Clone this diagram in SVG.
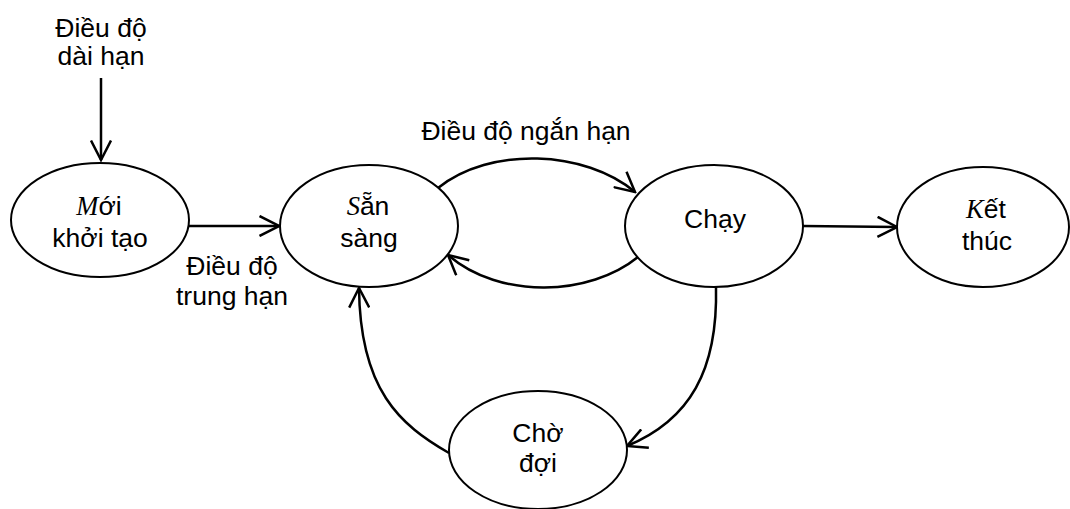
<svg xmlns="http://www.w3.org/2000/svg" width="1070" height="509" viewBox="0 0 1070 509">
<style>
.node ellipse{fill:#fff;stroke:#000;stroke-width:2}
text{font-family:"Liberation Sans",Arial,sans-serif;font-size:26.5px;fill:#000;text-anchor:middle}
.it{font-family:"Liberation Serif","Times New Roman",serif;font-style:italic}
.edge{fill:none;stroke:#000;stroke-width:2.5}
</style>
<defs>
<marker id="arr" viewBox="0 0 22 22" refX="20.5" refY="11" markerWidth="22" markerHeight="22" markerUnits="userSpaceOnUse" orient="auto">
<path d="M1,1 L20.5,11 L1,21" fill="none" stroke="#000" stroke-width="2.5"/>
</marker>
</defs>
<g id="connectors">
<path class="edge" d="M101,78 L101,160" marker-end="url(#arr)"/>
<path class="edge" d="M189,226 L279,226" marker-end="url(#arr)"/>
<path class="edge" d="M438,188 C490,146 585,150 635,192" marker-end="url(#arr)"/>
<path class="edge" d="M638,257 C590,296 500,300 448,255" marker-end="url(#arr)"/>
<path class="edge" d="M803,226 L897,227" marker-end="url(#arr)"/>
<path class="edge" d="M716,287 C718,370 690,420 627,446" marker-end="url(#arr)"/>
<path class="edge" d="M449,453 C400,425 360,390 359,288" marker-end="url(#arr)"/>
</g>
<g id="label-dai-han">
<text x="101" y="37">Điều độ</text>
<text x="101" y="65">dài hạn</text>
</g>
<g id="label-trung-han">
<text x="232" y="275">Điều độ</text>
<text x="232" y="305">trung hạn</text>
</g>
<g id="label-ngan-han">
<text x="526" y="140">Điều độ ngắn hạn</text>
</g>
<g id="node-moi" class="node">
<ellipse cx="100" cy="220" rx="89" ry="57"/>
<text x="99" y="215"><tspan class="it">M</tspan>ới</text>
<text x="100" y="247">khởi tạo</text>
</g>
<g id="node-san-sang" class="node">
<ellipse cx="369" cy="226" rx="89" ry="61"/>
<text x="368" y="215"><tspan class="it">S</tspan>ẵn</text>
<text x="369" y="247">sàng</text>
</g>
<g id="node-chay" class="node">
<ellipse cx="714" cy="226" rx="89" ry="61"/>
<text x="715" y="228">Chạy</text>
</g>
<g id="node-ket-thuc" class="node">
<ellipse cx="983" cy="227" rx="86" ry="60"/>
<text x="986" y="218"><tspan class="it">K</tspan>ết</text>
<text x="987" y="250">thúc</text>
</g>
<g id="node-cho-doi" class="node">
<ellipse cx="538" cy="450" rx="89" ry="59"/>
<text x="538" y="442">Chờ</text>
<text x="538" y="472">đợi</text>
</g>
</svg>
